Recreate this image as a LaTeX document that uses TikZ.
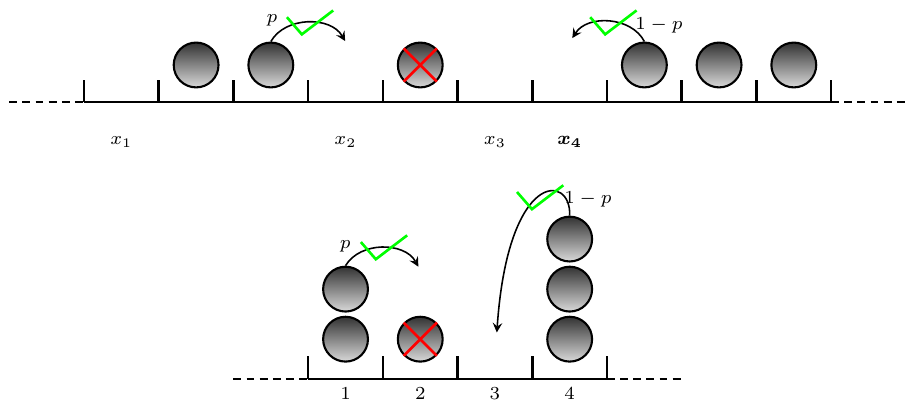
\documentclass[tikz,border=0pt]{standalone}
\usepackage{amsmath}
\usepackage{amssymb}
\usepackage{tikz}
\usetikzlibrary{positioning}

\tikzset{
    ball/.style={draw, circle, thick, minimum size=0.6cm, inner sep=0pt,
        top color=black!80, bottom color=black!15},
    tickline/.style={line width=1pt},
    jump/.style={semithick, ->, >=stealth},
    okline/.style={green, line width=1pt},
    noline/.style={red, line width=1pt}
}
\newcommand{\okmark}[1]{\draw[okline] #1 -- ++(0.2,-0.23) -- ++(0.42,0.32);}

\begin{document}
\begin{tikzpicture}[font=\scriptsize]
    \useasboundingbox (0,0) rectangle (12.14,5.37);

    % reticolo in alto
    \draw[thick, dash pattern=on 3pt off 2pt] (0.125,4) -- (1.125,4);
    \draw[thick] (1.125,4) -- (11.125,4);
    \draw[thick, dash pattern=on 3pt off 2pt] (11.125,4) -- (12.125,4);
    \foreach \i in {0,...,10}
        \draw[tickline] (1.125+\i,4) -- ++(0,0.3);

    \foreach \s in {1,2,4,7,8,9}
        \node[ball] (a\s) at (1.625+\s,4.5) {};
    \draw[noline] (a4.north west) -- (a4.south east) (a4.north east) -- (a4.south west);

    \node (x1) at (1.625,3.47) {$x_1$};
    \node (x2) at (4.625,3.47) {$x_2$};
    \node (x3) at (6.625,3.47) {$x_3$};
    \node (x4) at (7.625,3.47) {$\boldsymbol{x_4}$};

    \coordinate (land2) at (4.62,4.82);
    \draw[jump] (a2.north) to[bend left=60] (land2);
    \node (pa) at (3.64,5.1) {$p$};
    \okmark{(3.84,5.14)}

    \coordinate (land7) at (7.66,4.86);
    \draw[jump] (a7.north) to[bend right=60] (land7);
    \node (qa) at (8.82,5.03) {$1-p$};
    \okmark{(7.90,5.14)}

    % reticolo in basso
    \draw[thick, dash pattern=on 3pt off 2pt] (3.125,0.3) -- (4.125,0.3);
    \draw[thick] (4.125,0.3) -- (8.125,0.3);
    \draw[thick, dash pattern=on 3pt off 2pt] (8.125,0.3) -- (9.125,0.3);
    \foreach \i in {0,...,4}
        \draw[tickline] (4.125+\i,0.3) -- ++(0,0.3);
    \foreach \i in {1,...,4}
        \node (n\i) at (3.625+\i,0.1) {$\i$};

    \node[ball] (b1) at (4.625,0.83) {};
    \node[ball] (b2) at (4.625,1.5) {};
    \node[ball] (c1) at (5.625,0.83) {};
    \draw[noline] (c1.north west) -- (c1.south east) (c1.north east) -- (c1.south west);
    \node[ball] (d1) at (7.625,0.83) {};
    \node[ball] (d2) at (7.625,1.5) {};
    \node[ball] (d3) at (7.625,2.17) {};

    \coordinate (landb) at (5.6,1.8);
    \draw[jump] (b2.north) to[bend left=60] (landb);
    \node (pb) at (4.62,2.07) {$p$};
    \okmark{(4.83,2.13)}

    \coordinate (landd) at (6.65,0.92);
    \draw[jump] (d3.north) .. controls (7.65,3.05) and (6.8,3.1) .. (landd);
    \node (qb) at (7.87,2.7) {$1-p$};
    \okmark{(6.92,2.8)}
\end{tikzpicture}
\end{document}
